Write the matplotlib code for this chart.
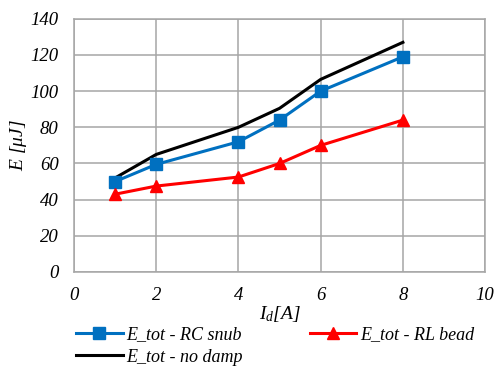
import matplotlib
matplotlib.use("Agg")
import matplotlib.pyplot as plt

# energy vs drain current
current = [1, 2, 4, 5, 6, 8]
e_rc_snub = [50, 59.5, 72, 84, 100, 119]
e_rl_bead = [43, 47.5, 52.5, 60, 70, 84]
e_no_damp = [52, 65, 80, 90.5, 106.5, 127]

plt.rcParams["font.family"] = "Liberation Serif"
plt.rcParams["font.style"] = "italic"
plt.rcParams["mathtext.fontset"] = "custom"
plt.rcParams["mathtext.it"] = "Liberation Serif:italic"
plt.rcParams["mathtext.rm"] = "Liberation Serif:italic"

fig = plt.figure(figsize=(4.95, 3.69), dpi=100)
ax = fig.add_axes([0.1495, 0.263, 0.8305, 0.686])

grid_col = "#a6a6a6"
ax.plot(current, e_rc_snub, color="#0070c0", lw=2.2, marker="s", ms=9, label="E_tot - RC snub", zorder=3)
ax.plot(current, e_no_damp, color="black", lw=2.2, label="E_tot - no damp", zorder=2)
ax.plot(current, e_rl_bead, color="#ff0000", lw=2.2, marker="^", ms=9, label="E_tot - RL bead", zorder=3)

ax.set_xlim(0, 10)
ax.set_ylim(0, 140)
ax.set_xticks(range(0, 11, 2))
ax.set_yticks(range(0, 141, 20))
ax.grid(True, color=grid_col, lw=1.1)
ax.set_axisbelow(True)
for s in ax.spines.values():
    s.set_color(grid_col)
    s.set_linewidth(1.1)
ax.tick_params(length=0, labelsize=13.5, pad=11)

ax.set_xlabel("$I_d$[A]", fontsize=14, labelpad=0)
ax.set_ylabel(r"E [$\mu$J]", fontsize=14, labelpad=1)

fig.legend(loc="lower left", bbox_to_anchor=(0.12, -0.035), ncol=2, frameon=False,
           fontsize=13, handlelength=2.6, columnspacing=3.7, handletextpad=0.2,
           labelspacing=0.3)

fig.savefig("out.png", dpi=100)
